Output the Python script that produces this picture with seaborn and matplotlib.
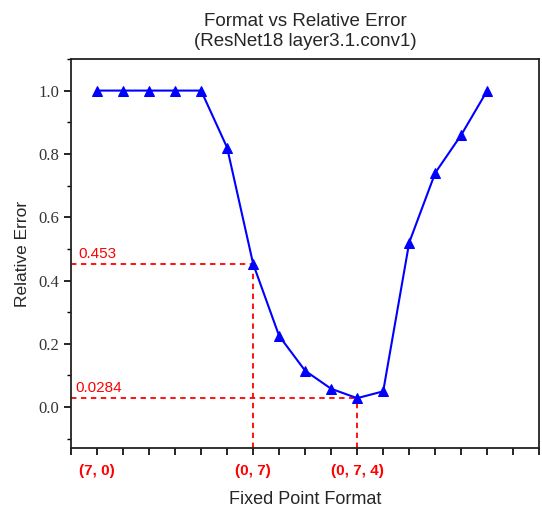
import matplotlib
matplotlib.use("Agg")
import matplotlib.pyplot as plt
import numpy as np
import pandas as pd
import seaborn as sns
from matplotlib.ticker import MultipleLocator

# positions along the format axis and relative error
positions = list(range(1, 17))
rel_error = [1.0, 1.0, 1.0, 1.0, 1.0, 0.82, 0.453, 0.225, 0.115, 0.058,
             0.0284, 0.05, 0.52, 0.74, 0.86, 1.0]

tick_positions = list(range(0, 19))
tick_labels = {1: "(7, 0)", 7: "(0, 7)", 11: "(0, 7, 4)"}

# highlighted points (x position, value, label)
highlight_x = [7, 11]
highlight_y = [0.453, 0.0284]
highlight_text = ["0.453", "0.0284"]
text_x = [0.28, 0.17]

df = pd.DataFrame({"pos": positions, "err": rel_error})

sns.set_style("ticks")
plt.rcParams["font.family"] = ["Liberation Sans", "DejaVu Sans"]

fig = plt.figure(figsize=(5.42, 5.08), dpi=100)
ax = fig.add_axes([0.131, 0.1175, 0.864, 0.7665])

ax.set_xlim(0, 18)
ax.set_ylim(-0.13, 1.1)

sns.lineplot(data=df, x="pos", y="err", ax=ax, color="blue", marker="^",
             markersize=7, markeredgecolor="blue", linewidth=1.5, zorder=3)

# dashed guides to the highlighted points
ylo = ax.get_ylim()[0]
for hx, hy, txt, tx in zip(highlight_x, highlight_y, highlight_text, text_x):
    ax.plot([0, hx], [hy, hy], ls=(0, (3, 2.5)), color="red", lw=1.3, zorder=2)
    ax.plot([hx, hx], [ylo, hy], ls=(0, (3, 2.5)), color="red", lw=1.3, zorder=2)
    ax.text(tx, hy + 0.009, txt, color="red", fontsize=11, ha="left", va="bottom")

ax.set_xticks(tick_positions)
ax.set_xticklabels([tick_labels.get(t, "") for t in tick_positions],
                   color="red", fontweight="bold", fontsize=11)
ax.yaxis.set_major_locator(MultipleLocator(0.2))
ax.yaxis.set_minor_locator(MultipleLocator(0.1))
ax.set_yticks([0.0, 0.2, 0.4, 0.6, 0.8, 1.0])
ax.set_yticklabels(["0.0", "0.2", "0.4", "0.6", "0.8", "1.0"],
                   family="Liberation Serif", fontsize=12, color="#333333")

ax.tick_params(axis="both", which="major", direction="out", length=5, width=1.2, color="black")
ax.tick_params(axis="y", which="minor", direction="out", length=3, width=1.0, color="black")
ax.tick_params(axis="x", pad=6)
for s in ax.spines.values():
    s.set_linewidth(1.3)
    s.set_color("#222222")

ax.set_xlabel("Fixed Point Format", fontsize=13, labelpad=10)
ax.set_ylabel("Relative Error", fontsize=12.5, labelpad=6)
ax.set_title("Format vs Relative Error\n(ResNet18 layer3.1.conv1)", fontsize=13.5,
             linespacing=1.25, pad=9)

fig.savefig("out.png", dpi=100)
